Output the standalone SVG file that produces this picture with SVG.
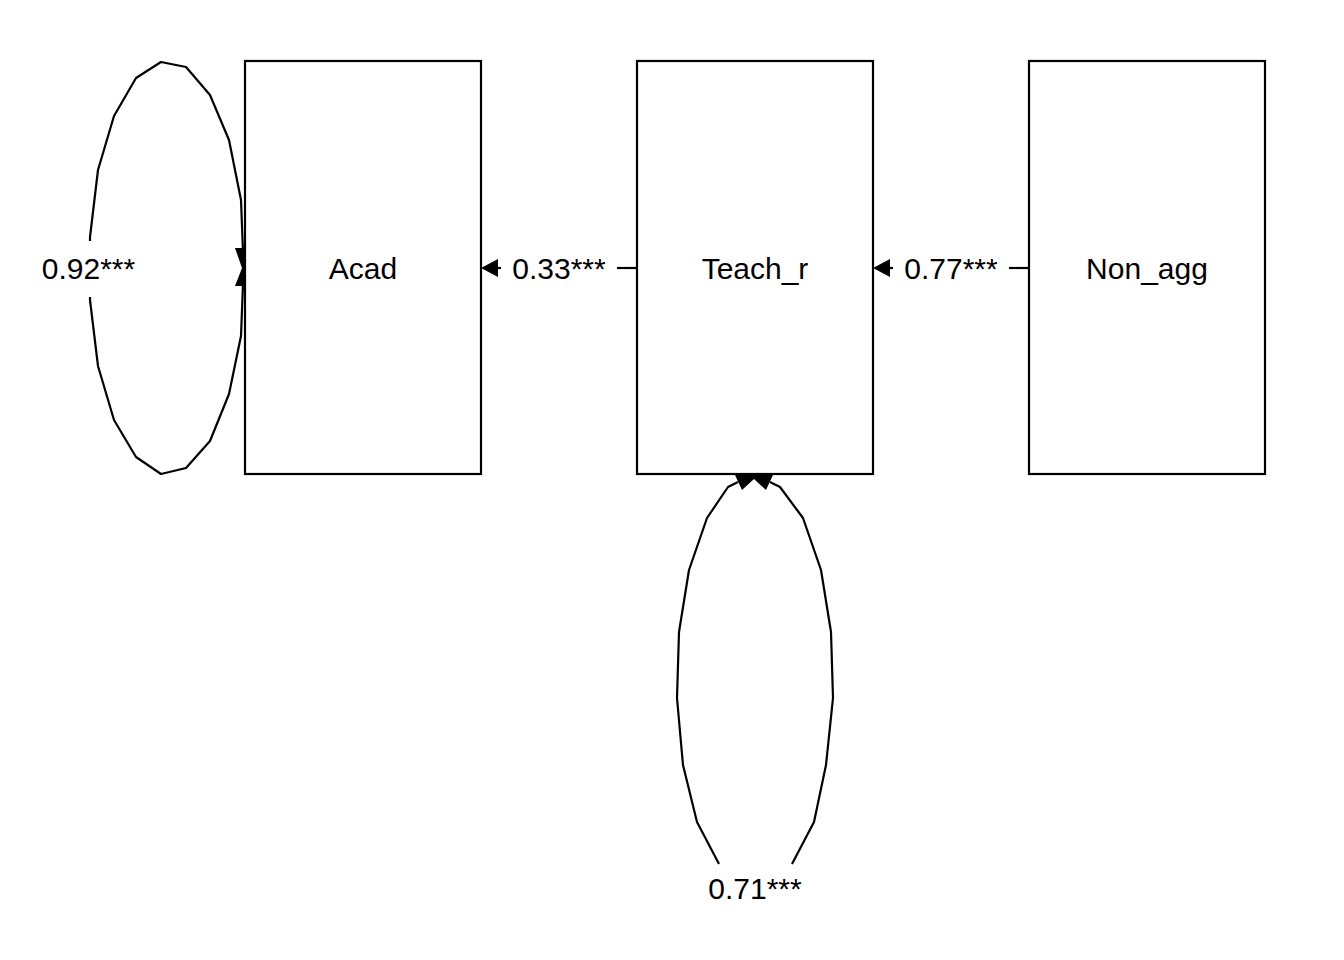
<svg xmlns="http://www.w3.org/2000/svg" width="1344" height="960" viewBox="0 0 1344 960">
<style>
.box{fill:#fff;stroke:#000;stroke-width:2.2}
.edge{fill:none;stroke:#000;stroke-width:2.2;stroke-linejoin:round}
.head{fill:#000;stroke:none}
text{font-family:"Liberation Sans",Arial,sans-serif;font-size:30px;fill:#000}
.lbl{text-anchor:middle}
</style>
<rect width="1344" height="960" fill="#fff"/>
<g id="connectors">
  <!-- Teach_r -> Acad -->
  <g id="e_teach_acad">
    <line class="edge" x1="637" y1="268" x2="617" y2="268"/>
    <line class="edge" x1="501" y1="268" x2="492" y2="268"/>
    <polygon class="head" points="481,268 498,259 498,277"/>
    <text class="lbl" x="559" y="279">0.33***</text>
  </g>
  <!-- Non_agg -> Teach_r -->
  <g id="e_non_teach">
    <line class="edge" x1="1029" y1="268" x2="1009" y2="268"/>
    <line class="edge" x1="893" y1="268" x2="884" y2="268"/>
    <polygon class="head" points="873,268 890,259 890,277"/>
    <text class="lbl" x="951" y="279">0.77***</text>
  </g>
  <!-- Acad residual loop -->
  <g id="e_acad_loop">
    <polyline class="edge" points="243,252 241,200 229,140 210,95 186,67 161,62 136,78 114,116 98,170 90,237 90,241"/>
    <polyline class="edge" points="90,297 90,300 98,366 114,420 136,457 161,474 186,468 210,441 229,394 241,336 243,284"/>
    <polygon class="head" points="235,248 245,248 245,286 235,286 242,268"/>
    <text class="lbl" x="88.5" y="279">0.92***</text>
  </g>
  <!-- Teach_r residual loop -->
  <g id="e_teach_loop">
    <polyline class="edge" points="738,482 728,487 707,518 689,570 679,632 677,698 683,765 697,822 719,864"/>
    <polyline class="edge" points="770,482 780,487 803,518 821,570 831,632 833,698 826,765 814,822 792,864"/>
    <polygon class="head" points="735,475 773,475 766,490 754,479 742,490"/>
    <text class="lbl" x="755" y="899">0.71***</text>
  </g>
</g>
<g id="node_acad">
  <rect class="box" x="245" y="61" width="236" height="413"/>
  <text class="lbl" x="363" y="279">Acad</text>
</g>
<g id="node_teach_r">
  <rect class="box" x="637" y="61" width="236" height="413"/>
  <text class="lbl" x="755" y="279">Teach_r</text>
</g>
<g id="node_non_agg">
  <rect class="box" x="1029" y="61" width="236" height="413"/>
  <text class="lbl" x="1147" y="279">Non_agg</text>
</g>
</svg>
